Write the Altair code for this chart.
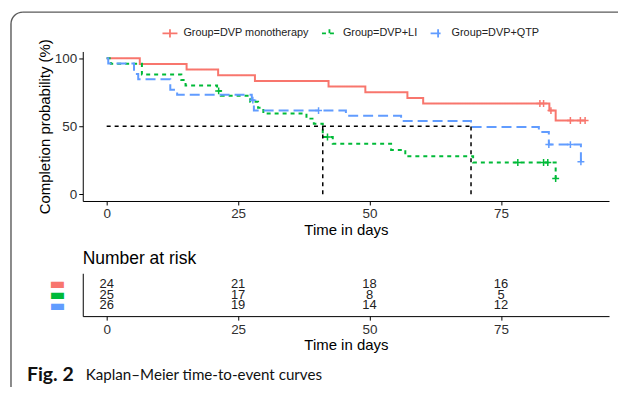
import altair as alt
import pandas as pd

groups = ["DVP monotherapy", "DVP+LI", "DVP+QTP"]
colors = ["#F8766D", "#00BA38", "#619CFF"]
dashes = [[1, 0], [4, 4], [10, 5]]

# Kaplan-Meier step curves (day, completion %)
mono_t = [0, 6.3, 15.2, 21.2, 28.2, 42.2, 49.2, 57.2, 60.2, 84.2, 85.4, 91.0]
mono_s = [100, 95.8, 91.7, 87.5, 83.3, 79.2, 75.0, 70.8, 66.7, 61.5, 54.2, 54.2]
li_t = [0, 0.8, 6.7, 14.2, 15.0, 21.0, 21.7, 27.3, 28.8, 29.8, 38.0, 39.4, 41.1, 43.0, 54.1, 56.8, 69.7, 85.4]
li_s = [100, 96.0, 88.0, 84.0, 80.0, 76.0, 72.4, 68.0, 63.6, 59.3, 55.6, 51.9, 42.1, 37.2, 32.6, 27.9, 23.3, 11.6]
qtp_t = [0, 0.3, 5.2, 6.0, 12.1, 13.4, 27.6, 28.0, 45.5, 56.0, 69.3, 82.2, 84.1, 90.2]
qtp_s = [100, 96.2, 88.5, 84.6, 76.9, 73.1, 69.2, 61.5, 57.7, 53.8, 49.5, 45.8, 36.5, 23.8]

# censoring marks
mono_ct = [82.4, 83.1, 84.5, 88.2, 90.1, 91.0]
mono_cs = [66.7, 66.7, 61.5, 54.2, 54.2, 54.2]
li_ct = [21.3, 42.0, 78.2, 83.1, 83.9, 85.4]
li_cs = [76.0, 42.1, 23.3, 23.3, 23.3, 11.6]
qtp_ct = [27.8, 40.3, 84.1, 88.2, 90.2]
qtp_cs = [69.2, 61.5, 36.5, 36.5, 23.8]

# median survival reference lines
median_days = [41.1, 69.3]
median_level = 50

# number at risk table
risk_times = [0, 25, 50, 75]
risk_mono = [24, 21, 18, 16]
risk_li = [25, 17, 8, 5]
risk_qtp = [26, 19, 14, 12]

caption_bold = "Fig. 2"
caption_text = "Kaplan\u2013Meier time-to-event curves"

# ---------- build tables ----------
curve_rows = []
for g, ts, ss in zip(groups, [mono_t, li_t, qtp_t], [mono_s, li_s, qtp_s]):
    for i, (t, s) in enumerate(zip(ts, ss)):
        curve_rows.append({"group": g, "t": t, "s": s, "idx": i})
curve_df = pd.DataFrame(curve_rows)

cens_rows = []
for g, ts, ss in zip(groups, [mono_ct, li_ct, qtp_ct], [mono_cs, li_cs, qtp_cs]):
    for t, s in zip(ts, ss):
        cens_rows.append({"group": g, "t": t, "s": s})
cens_df = pd.DataFrame(cens_rows)

med_df = pd.DataFrame(
    [{"t": 0, "t2": median_days[-1], "s": median_level, "s2": median_level}]
    + [{"t": d, "t2": d, "s": 0, "s2": median_level} for d in median_days]
)

risk_rows = []
for g, ns in zip(groups, [risk_mono, risk_li, risk_qtp]):
    for t, n in zip(risk_times, ns):
        risk_rows.append({"group": g, "t": t, "n": n})
risk_df = pd.DataFrame(risk_rows)

one = pd.DataFrame({"k": [0]})

FONT = "Liberation Sans"
W = 528
xscale = alt.Scale(domain=[-4.55, 95.55], nice=False, zero=False)
yscale = alt.Scale(domain=[-5, 105], nice=False, zero=False)
cscale = alt.Scale(domain=groups, range=colors)
dscale = alt.Scale(domain=groups, range=dashes)

plus_path = "M-1,0H1M0,-1V1"
leg = alt.Legend(
    title=None, orient="none", legendX=79, legendY=-27, direction="horizontal",
    labelExpr="'Group=' + datum.label", labelFont=FONT, labelFontSize=10.9,
    labelColor="#222222", symbolType="M-1,0H1M0,-0.55V0.55", symbolSize=225,
    symbolStrokeWidth=1.8, columnPadding=9, labelOffset=5, padding=0,
)

X = alt.X("t:Q", scale=xscale, axis=alt.Axis(values=risk_times, title="Time in days", grid=False))
Y = alt.Y("s:Q", scale=yscale, axis=alt.Axis(values=[0, 25, 50, 75, 100], title="Completion probability (%)", grid=False))

lines = alt.Chart(curve_df).mark_line(interpolate="step-after", strokeWidth=2).encode(
    x=X, y=Y,
    color=alt.Color("group:N", scale=cscale, legend=leg),
    strokeDash=alt.StrokeDash("group:N", scale=dscale, legend=leg),
    order="idx:Q",
)
cens = alt.Chart(cens_df).mark_point(shape=plus_path, size=48, filled=False, strokeWidth=1.5, opacity=1).encode(
    x="t:Q", y="s:Q",
    color=alt.Color("group:N", scale=cscale, legend=leg),
)
meds = alt.Chart(med_df).mark_rule(color="black", strokeDash=[4, 4], strokeWidth=1.5).encode(
    x="t:Q", x2="t2:Q", y="s:Q", y2="s2:Q"
)

frame_col = "#5a5a5a"
f_left = alt.Chart(one).mark_rule(color=frame_col, strokeWidth=1.4).encode(
    x=alt.value(-72), y=alt.value(-27.5), y2=alt.value(336.5))
f_top = alt.Chart(one).mark_rule(color=frame_col, strokeWidth=1.4).encode(
    y=alt.value(-39.5), x=alt.value(-60), x2=alt.value(537))
f_arc = alt.Chart(one).mark_arc(radius=12, radius2=12, theta=4.712389, theta2=6.283185,
                                stroke=frame_col, strokeWidth=1.4, fillOpacity=0).encode(
    x=alt.value(-60), y=alt.value(-27.5))

top = alt.layer(lines, cens, meds, f_left, f_top, f_arc).properties(width=W, height=150)

risk_text = alt.Chart(risk_df).mark_text(font=FONT, fontSize=13, color="#222222", baseline="middle").encode(
    x=alt.X("t:Q", scale=xscale, axis=alt.Axis(values=risk_times, title="Time in days", grid=False)),
    y=alt.Y("group:N", scale=alt.Scale(type="point", domain=groups, padding=1.05),
            axis=alt.Axis(title=None, ticks=False, tickSize=0, labelExpr="'\u25ac'", labelFont="DejaVu Sans",
                          labelFontSize=17, labelPadding=18, labelBaseline="middle",
                          labelColor={"expr": "datum.value == 'DVP monotherapy' ? '#F8766D' : (datum.value == 'DVP+LI' ? '#00BA38' : '#619CFF')"})),
    text="n:Q",
)
cap1 = alt.Chart(pd.DataFrame({"label": [caption_bold]})).mark_text(
    align="left", baseline="middle", font="Lato", fontSize=19.5, fontWeight="bold", color="#111111"
).encode(x=alt.value(-56), y=alt.value(102), text="label:N")
cap2 = alt.Chart(pd.DataFrame({"label": [caption_text]})).mark_text(
    align="left", baseline="middle", font="Lato", fontSize=15.2, color="#111111"
).encode(x=alt.value(3), y=alt.value(102), text="label:N")

bottom = alt.layer(risk_text, cap1, cap2).properties(
    width=W, height=43,
    title=alt.TitleParams("Number at risk", anchor="start", frame="group", font=FONT,
                          fontSize=17.5, fontWeight="normal", color="black", offset=6),
)

chart = alt.vconcat(top, bottom, spacing=72.5, bounds="flush").properties(
    padding={"left": 0, "top": 0, "right": 0, "bottom": 0}
).configure_view(stroke=None).configure_axis(
    domainColor="black", domainWidth=1, tickColor="black", tickSize=4, tickWidth=1,
    labelFont=FONT, labelFontSize=13.5, labelColor="#303030", labelPadding=2,
    titleFont=FONT, titleFontSize=15, titleFontWeight="normal", titleColor="black", titlePadding=2,
)

chart.save("out.html", embed_options={"renderer": "svg", "actions": False})
